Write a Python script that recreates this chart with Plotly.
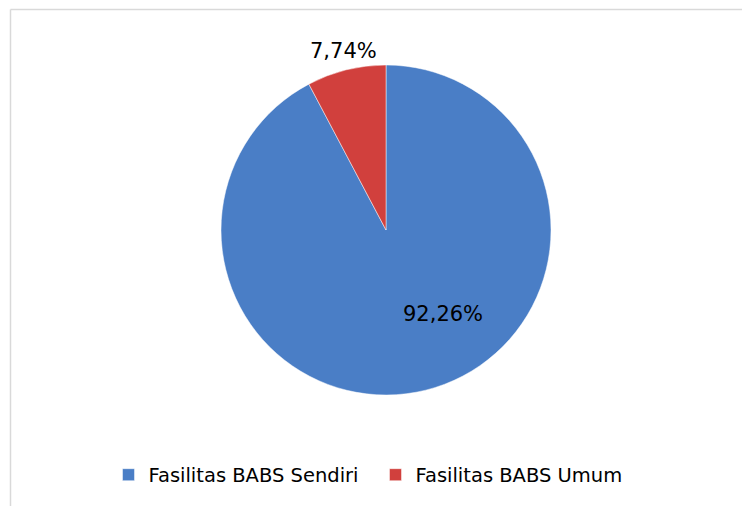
import plotly.graph_objects as go

categories = ["Fasilitas BABS Sendiri", "Fasilitas BABS Umum"]
values = [92.26, 7.74]
colors = ["#4a7ec6", "#d1403d"]

W, H = 750, 506
OFF = 8  # page body offset of the plot div
font_family = "DejaVu Sans, Verdana, Tahoma, sans-serif"

def px_x(x):
    return (x - OFF) / W

def px_y(y):
    return 1 - (y - OFF) / H

total = sum(values)
label_texts = [f"{v / total * 100:.2f}%".replace(".", ",") for v in values]

fig = go.Figure(
    go.Pie(
        labels=categories,
        values=values,
        sort=False,
        direction="clockwise",
        rotation=0,
        textinfo="none",
        hoverinfo="label+percent",
        marker=dict(colors=colors, line=dict(color="rgba(255,255,255,0.6)", width=0.8)),
        domain=dict(x=[px_x(221), px_x(551)], y=[px_y(395), px_y(65)]),
        showlegend=True,
    )
)

label_pos = [(442.5, 314), (343, 51)]
annotations = []
for txt, (ax, ay) in zip(label_texts, label_pos):
    annotations.append(
        dict(
            x=px_x(ax), y=px_y(ay), xref="paper", yref="paper", text=txt, showarrow=False,
            xanchor="center", yanchor="middle",
            font=dict(family=font_family, size=21, color="#000000"),
        )
    )

fig.update_layout(
    width=W,
    height=H,
    margin=dict(l=0, r=0, t=0, b=0),
    paper_bgcolor="#ffffff",
    plot_bgcolor="#ffffff",
    separators=",.",
    annotations=annotations,
    legend=dict(
        orientation="h",
        x=px_x(112.5 - 4), xanchor="left",
        y=px_y(475), yanchor="middle",
        font=dict(family=font_family, size=19.5, color="#000000"),
        itemwidth=30,
        entrywidth=222,
        bgcolor="rgba(0,0,0,0)",
    ),
    shapes=[
        dict(type="line", xref="paper", yref="paper", x0=px_x(10.5), x1=1, y0=px_y(9.5), y1=px_y(9.5),
             line=dict(color="#d9d9d9", width=1.5)),
        dict(type="line", xref="paper", yref="paper", x0=px_x(10.5), x1=px_x(10.5), y0=0, y1=px_y(9.5),
             line=dict(color="#d9d9d9", width=1.5)),
    ],
)

fig.write_html("out.html")
